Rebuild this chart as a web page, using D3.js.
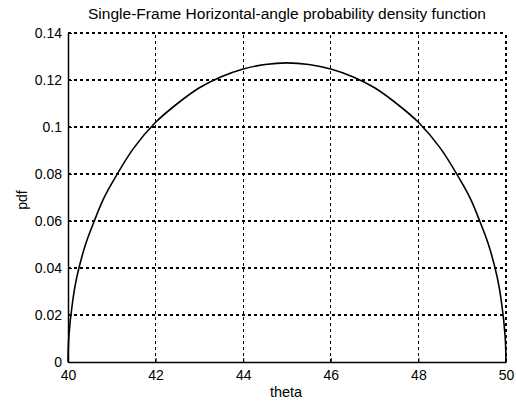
<!DOCTYPE html>
<html>
<head>
<meta charset="utf-8">
<script src="https://cdn.jsdelivr.net/npm/d3@7"></script>
<style>
  html, body { margin: 0; padding: 0; background: #fff; }
  text { font-family: "Liberation Sans", Arial, sans-serif; fill: #000; }
</style>
</head>
<body>
<script>
// values
let thetaVals = [40, 40.02, 40.1, 40.2, 40.4, 40.6, 40.8, 41, 41.5, 42, 42.5, 43, 43.5, 44, 44.5, 45,
                 45.5, 46, 46.5, 47, 47.5, 48, 48.5, 49, 49.2, 49.4, 49.6, 49.8, 49.9, 49.98, 50]
let pdfVals = [0, 0.011, 0.025, 0.036, 0.050, 0.060, 0.069, 0.076, 0.091, 0.102, 0.110, 0.1167, 0.1214, 0.1247, 0.1266, 0.1273,
               0.1266, 0.1247, 0.1214, 0.1167, 0.110, 0.102, 0.091, 0.076, 0.069, 0.060, 0.050, 0.036, 0.025, 0.011, 0]
let xTicks = [40, 42, 44, 46, 48, 50]
let yTicks = [0, 0.02, 0.04, 0.06, 0.08, 0.1, 0.12, 0.14]
let yTickLabels = ['0', '0.02', '0.04', '0.06', '0.08', '0.1', '0.12', '0.14']

let WIDTH = 516, HEIGHT = 402,
    MARGIN = {top: 33, right: 10, bottom: 40, left: 68}

let svg = d3.select('body').append('svg')
  .attr('width', WIDTH).attr('height', HEIGHT)

let x = d3.scaleLinear().domain([40, 50]).range([MARGIN.left, WIDTH - MARGIN.right])
let y = d3.scaleLinear().domain([0, 0.14]).range([HEIGHT - MARGIN.bottom, MARGIN.top])

//Grid
let grid = svg.append('g').attr('stroke', '#000').attr('stroke-width', 1.2)
  .attr('stroke-dasharray', '3,3').attr('shape-rendering', 'crispEdges')
grid.selectAll('.vgrid').data(xTicks.slice(1)).enter().append('line')
  .attr('x1', d => x(d)).attr('x2', d => x(d))
  .attr('y1', y(0)).attr('y2', y(0.14))
grid.selectAll('.hgrid').data(yTicks.slice(1)).enter().append('line')
  .attr('x1', x(40)).attr('x2', x(50))
  .attr('y1', d => y(d)).attr('y2', d => y(d))

//Axes
let xAxis = d3.axisBottom(x).tickValues(xTicks).tickSize(-4).tickSizeOuter(0).tickPadding(8)
let yAxis = d3.axisLeft(y).tickValues(yTicks).tickSize(-4).tickSizeOuter(0).tickPadding(6)
  .tickFormat((d, i) => yTickLabels[i])

svg.append('g').attr('transform', 'translate(0,' + y(0) + ')').call(xAxis)
svg.append('g').attr('transform', 'translate(' + x(40) + ',0)').call(yAxis)
svg.selectAll('.domain').attr('stroke-width', 1.5)
svg.selectAll('.tick text').attr('font-size', 14).attr('font-family', '"Liberation Sans", Arial, sans-serif')
svg.selectAll('.tick line').attr('stroke-width', 1)

//Curve
let pts = thetaVals.map((t, i) => [t, pdfVals[i]])
svg.append('path').datum(pts)
  .attr('fill', 'none').attr('stroke', '#000').attr('stroke-width', 1.6)
  .attr('d', d3.line().x(d => x(d[0])).y(d => y(d[1])).curve(d3.curveCatmullRom.alpha(0.5)))

//Labels
svg.append('text').attr('x', 287).attr('y', 19).attr('text-anchor', 'middle')
  .attr('font-size', 14).attr('textLength', 398).attr('lengthAdjust', 'spacingAndGlyphs')
  .text('Single-Frame Horizontal-angle probability density function')
svg.append('text').attr('x', 286).attr('y', 397).attr('text-anchor', 'middle')
  .attr('font-size', 14.5).text('theta')
svg.append('text').attr('transform', 'translate(27,200) rotate(-90)').attr('text-anchor', 'middle')
  .attr('font-size', 14).text('pdf')
</script>
</body>
</html>
